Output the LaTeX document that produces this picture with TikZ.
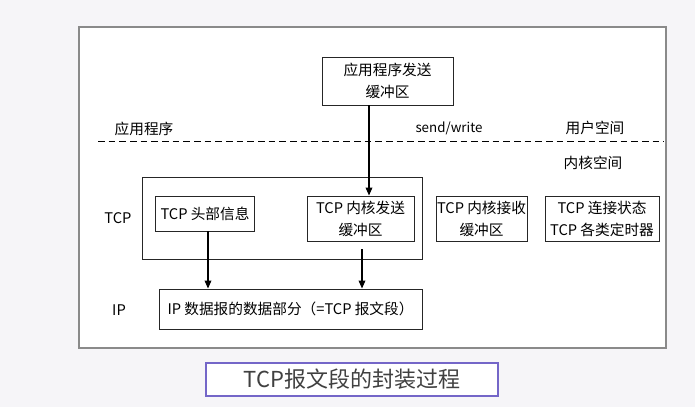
\documentclass[tikz,border=0pt]{standalone}
\usepackage{fontspec}
\setmainfont{Noto Sans CJK SC}
\usetikzlibrary{arrows.meta}
\definecolor{bgc}{HTML}{F6F5F8}
\definecolor{framec}{HTML}{8A8A8A}
\definecolor{titlec}{HTML}{7466C8}
\definecolor{titletext}{HTML}{404040}
\tikzset{
  box/.style={draw=black!85, line width=0.7pt, fill=white, inner sep=0pt, align=center,
    font=\fontsize{11pt}{16.5pt}\selectfont},
  lbl/.style={inner sep=0pt, font=\fontsize{11pt}{13pt}\selectfont},
  arr/.style={-{Triangle[length=6pt,width=5pt]}, line width=1pt, black},
}
\begin{document}
\begin{tikzpicture}[x=0.75pt,y=-0.75pt]
\fill[bgc] (0,0) rectangle (695,407);
\useasboundingbox (0,0) rectangle (695,407);
% outer frame
\node[draw=framec, line width=1.1pt, fill=white, minimum width=440.25pt, minimum height=240.75pt, inner sep=0pt] (frame) at (372.5,187.5) {};
% dashed separator
\coordinate (dl) at (98,141);
\coordinate (dr) at (664,141);
\draw[dash pattern=on 5pt off 3pt, line width=0.7pt] (dl) -- (dr);
% labels
\node[lbl] (app) at (144,129) {应用程序};
\node[lbl, font=\fontsize{10pt}{12pt}\selectfont] (sw) at (449,128) {send/write};
\node[lbl] (user) at (595,128) {用户空间};
\node[lbl] (kern) at (593,163) {内核空间};
\node[lbl] (tcpl) at (118,218) {TCP};
\node[lbl] (ipl) at (119,310) {IP};
% boxes
\node[box, minimum width=98.25pt, minimum height=36pt] (appbuf) at (387.5,81) {应用程序发送\\缓冲区};
\node[box, minimum width=210pt, minimum height=61.5pt] (tcpouter) at (282,218) {};
\node[box, minimum width=74.25pt, minimum height=26.25pt] (hdr) at (205,213.5) {TCP 头部信息};
\node[box, minimum width=80.25pt, minimum height=33.75pt] (sendbuf) at (360.5,218.5) {TCP 内核发送\\缓冲区};
\node[box, minimum width=68.25pt, minimum height=33.75pt] (recvbuf) at (481.5,218.5) {TCP 内核接收\\缓冲区};
\node[box, minimum width=85.5pt, minimum height=33.75pt] (state) at (602,218.5) {TCP 连接状态\\TCP 各类定时器};
\node[box, minimum width=197.25pt, minimum height=30pt] (ip) at (290.5,309) {IP 数据报的数据部分（=TCP 报文段）};
% arrows
\coordinate (a1) at (369,105);
\draw[arr] (a1) -- (a1 |- sendbuf.north);
\coordinate (a2) at (208,231);
\draw[arr] (a2) -- (a2 |- ip.north);
\coordinate (a3) at (362,249);
\draw[arr] (a3) -- (a3 |- ip.north);
% title
\node[draw=titlec, line width=1.5pt, fill=white, minimum width=219pt, minimum height=24.75pt, inner sep=0pt,
  text=titletext, font=\fontsize{16.5pt}{19pt}\selectfont] (title) at (352,379.5) {TCP报文段的封装过程};
\end{tikzpicture}
\end{document}
